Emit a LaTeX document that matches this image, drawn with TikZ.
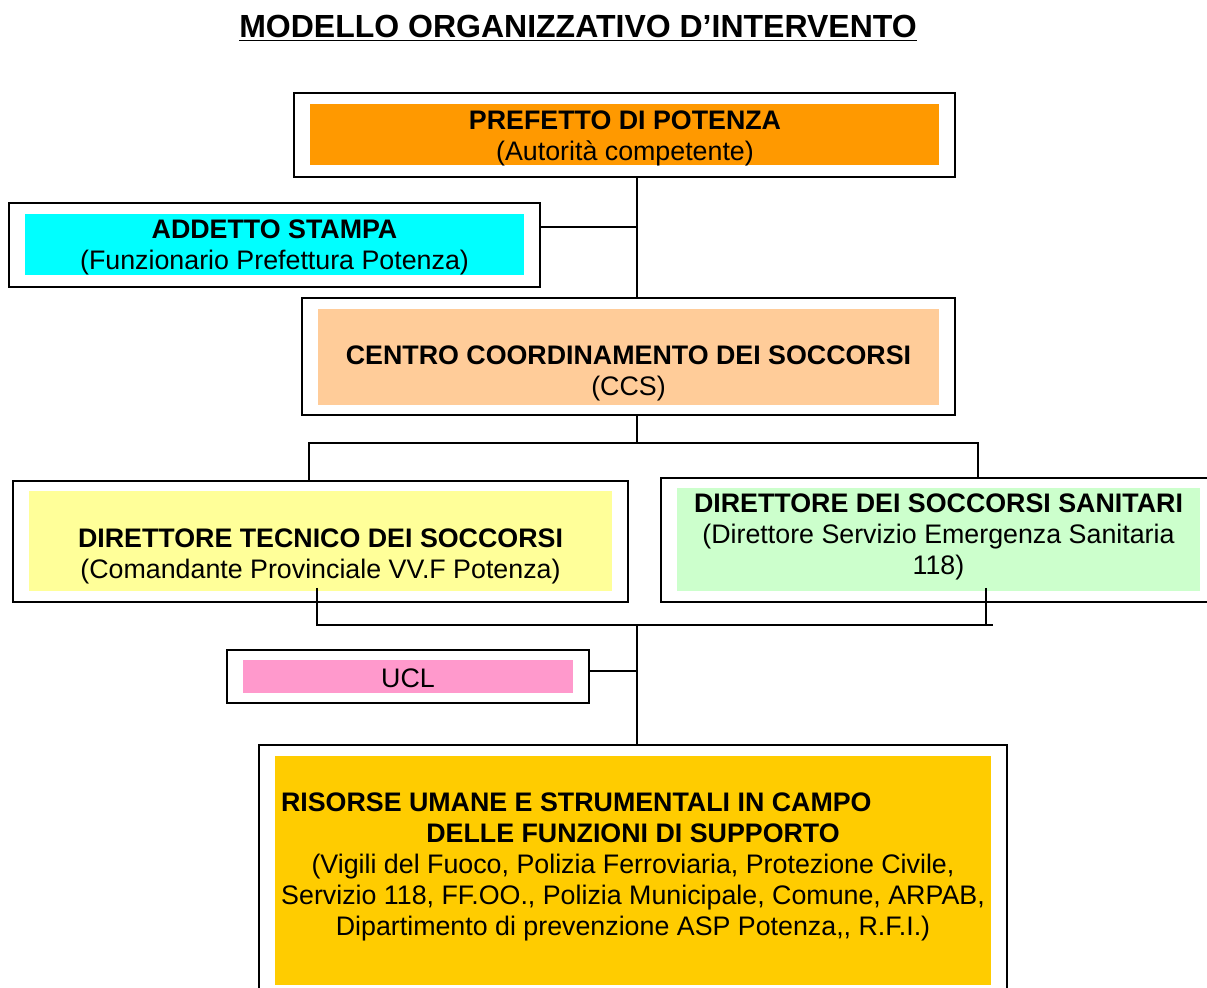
\documentclass[tikz,border=0pt]{standalone}
\usepackage{fontspec}
\setmainfont{Liberation Sans}
\definecolor{prefcol}{HTML}{FF9900}
\definecolor{stampacol}{HTML}{00FFFF}
\definecolor{ccscol}{HTML}{FFCC99}
\definecolor{dtscol}{HTML}{FFFF99}
\definecolor{dsscol}{HTML}{CCFFCC}
\definecolor{uclcol}{HTML}{FF99CC}
\definecolor{risorsecol}{HTML}{FFCC00}
\tikzset{
  frame/.style={draw, line width=1pt, fill=white, inner sep=0pt},
  panel/.style={inner sep=0pt},
  boxtext/.style={align=center, inner sep=0pt, font=\fontsize{13.4}{15.5}\selectfont},
  link/.style={line width=1pt}
}
\begin{document}
\begin{tikzpicture}[x=0.5pt,y=-0.5pt]
\useasboundingbox (0,0) rectangle (1207,988);
\clip (0,0) rectangle (1207,988);
\node[inner sep=0pt, font=\fontsize{16}{19}\selectfont\bfseries] (title) at (578,28) {\underline{MODELLO ORGANIZZATIVO D’INTERVENTO}};

\node[frame, minimum width=330.5pt, minimum height=42pt] (pref) at (624.5,135) {};
\node[panel, fill=prefcol, minimum width=314.5pt, minimum height=30.5pt] (pref-fill) at (624.5,134.5) {};
\node[boxtext] (pref-txt) at (625,138) {\textbf{PREFETTO DI POTENZA}\\(Autorità competente)};

\node[frame, minimum width=265.5pt, minimum height=42pt] (stampa) at (274.5,245) {};
\node[panel, fill=stampacol, minimum width=249.5pt, minimum height=30.5pt] (stampa-fill) at (274.5,244.5) {};
\node[boxtext] (stampa-txt) at (274.5,247) {\textbf{ADDETTO STAMPA}\\(Funzionario Prefettura Potenza)};

\node[frame, minimum width=326.5pt, minimum height=58.5pt] (ccs) at (628.5,356.5) {};
\node[panel, fill=ccscol, minimum width=310.5pt, minimum height=48pt] (ccs-fill) at (628.5,357) {};
\node[boxtext] (ccs-txt) at (628.5,373) {\textbf{CENTRO COORDINAMENTO DEI SOCCORSI}\\(CCS)};

\node[frame, minimum width=307.5pt, minimum height=60.5pt] (dts) at (320.5,541.5) {};
\node[panel, fill=dtscol, minimum width=291.5pt, minimum height=50pt] (dts-fill) at (320.5,541) {};
\node[boxtext] (dts-txt) at (320.5,556) {\textbf{DIRETTORE TECNICO DEI SOCCORSI}\\(Comandante Provinciale VV.F Potenza)};

\node[frame, minimum width=279.5pt, minimum height=62pt] (dss) at (940.5,540) {};
\node[panel, fill=dsscol, minimum width=261.5pt, minimum height=51.5pt] (dss-fill) at (938.5,539.5) {};
\node[boxtext] (dss-txt) at (938.5,537) {\textbf{DIRETTORE DEI SOCCORSI SANITARI}\\(Direttore Servizio Emergenza Sanitaria\\118)};

\node[frame, minimum width=181pt, minimum height=26.5pt] (ucl) at (408,676.5) {};
\node[panel, fill=uclcol, minimum width=165pt, minimum height=16.5pt] (ucl-fill) at (408,676.5) {};
\node[boxtext] (ucl-txt) at (408,678) {UCL};

\node[frame, minimum width=374pt, minimum height=127.5pt] (risorse) at (633,872.5) {};
\node[panel, fill=risorsecol, minimum width=358pt, minimum height=114.5pt] (risorse-fill) at (633,870.5) {};
\node[boxtext] (risorse-txt) at (633,867) {\makebox[352pt][l]{\textbf{RISORSE UMANE E STRUMENTALI IN CAMPO}}\\\textbf{DELLE FUNZIONI DI SUPPORTO}\\(Vigili del Fuoco, Polizia Ferroviaria, Protezione Civile,\\Servizio 118, FF.OO., Polizia Municipale, Comune, ARPAB,\\Dipartimento di prevenzione ASP Potenza,{},\ R.F.I.)};

\coordinate (t1) at (637,227);
\coordinate (t2) at (637,443);
\coordinate (b1) at (309,443);
\coordinate (b2) at (978,443);
\coordinate (c1) at (317,588);
\coordinate (c2) at (986,588);
\coordinate (t3) at (637,625);
\coordinate (c3) at (993,625);
\coordinate (t4) at (637,671);

\draw[link] (pref.south -| t1) -- (ccs.north -| t1);
\draw[link] (stampa.east |- t1) -- (t1);
\draw[link] (ccs.south -| t2) -- (t2);
\draw[link] (b1 |- dts.north) -- (b1) -- (b2) -- (b2 |- dss.north);
\draw[link] (c1) -- (c1 |- t3) -- (c3);
\draw[link] (c2) -- (c2 |- t3);
\draw[link] (t3) -- (risorse.north -| t3);
\draw[link] (ucl.east |- t4) -- (t4);
\end{tikzpicture}
\end{document}
